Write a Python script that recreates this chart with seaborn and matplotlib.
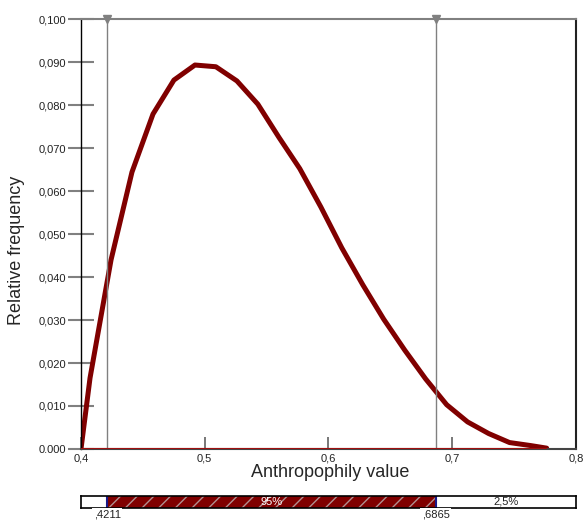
import seaborn as sns
import matplotlib.pyplot as plt

# curve
x_vals = [0.4000, 0.4073, 0.4243, 0.4412, 0.4582, 0.4751, 0.4921, 0.5090, 0.5260,
          0.5429, 0.5599, 0.5768, 0.5938, 0.6107, 0.6277, 0.6446, 0.6616, 0.6785,
          0.6955, 0.7124, 0.7294, 0.7463, 0.7633, 0.7763]
y_vals = [0.0000, 0.0165, 0.0440, 0.0644, 0.0779, 0.0858, 0.0893, 0.0889, 0.0856,
          0.0802, 0.0725, 0.0652, 0.0563, 0.0468, 0.0382, 0.0302, 0.0230, 0.0163,
          0.0103, 0.0063, 0.0036, 0.0015, 0.0008, 0.0002]

# credible interval
lower, upper = 0.4211, 0.6865
lower_label, upper_label = ",4211", ",6865"
mid_label, tail_label = "95%", "2,5%"

x_ticks = [0.4, 0.5, 0.6, 0.7, 0.8]
x_tick_labels = ["0,4", "0,5", "0,6", "0,7", "0,8"]
y_ticks = [0.0, 0.01, 0.02, 0.03, 0.04, 0.05, 0.06, 0.07, 0.08, 0.09, 0.10]
y_tick_labels = ["0.000", "0,010", "0,020", "0,030", "0,040", "0,050",
                 "0,060", "0,070", "0,080", "0,090", "0,100"]

sns.set_theme(style="white")
plt.rcParams['font.family'] = ['Liberation Sans', 'DejaVu Sans']

fig = plt.figure(figsize=(5.86, 5.21), dpi=100)
ax = fig.add_axes([0.1382, 0.1382, 0.8447, 0.8253])

sns.lineplot(x=x_vals, y=y_vals, color="#800000", linewidth=3.6, ax=ax)
ax.hlines(0, x_vals[0], x_vals[-1], color="#a01010", linewidth=1.5, zorder=3)

# interval markers
for v in [lower, upper]:
    ax.axvline(v, color="#808080", linewidth=1)
    ax.plot([v], [0.1], marker="v", color="#808080", markersize=6, clip_on=False)

ax.set_xlim(0.4, 0.8)
ax.set_ylim(0, 0.1)
ax.set_xticks(x_ticks)
ax.set_xticklabels(x_tick_labels, fontsize=8)
ax.set_yticks(y_ticks)
ax.set_yticklabels(y_tick_labels, fontsize=8)
ax.tick_params(axis="y", left=True, direction="inout", length=19, width=1.5,
               color="#808080", pad=1, labelcolor="#222222")
ax.tick_params(axis="x", bottom=True, direction="in", length=9, width=1.2,
               color="#606060", pad=3, labelcolor="#222222")
for side in ["left", "right", "bottom", "top"]:
    ax.spines[side].set_visible(True)
ax.spines["top"].set_color("#808080")
ax.spines["top"].set_linewidth(1.5)
ax.spines["left"].set_color("black")
ax.spines["left"].set_linewidth(1)
ax.spines["right"].set_color("#222222")
ax.spines["right"].set_linewidth(1.5)
ax.spines["bottom"].set_color("#444444")
ax.spines["bottom"].set_linewidth(1.5)

ax.set_xlabel("Anthropophily value", fontsize=13)
ax.set_ylabel("Relative frequency", fontsize=13)
ax.xaxis.set_label_coords(0.503, -0.035)
ax.yaxis.set_label_coords(-0.113, 0.463)

# interval bar under the chart
bx = fig.add_axes([0.1382, 0.025, 0.8447, 0.023])
bx.barh([0], [upper - lower], left=[lower], height=1, color="#800000",
        edgecolor="#b09090", hatch="//", linewidth=0)
for v in [lower, upper]:
    bx.axvline(v, color="#1a1a8a", linewidth=1.5)
bx.set_xlim(0.4, 0.8)
bx.set_ylim(-0.5, 0.5)
bx.set_xticks([])
bx.set_yticks([])
for side in ["left", "right", "bottom", "top"]:
    bx.spines[side].set_visible(True)
    bx.spines[side].set_color("black")
    bx.spines[side].set_linewidth(1.2)
bx.text((lower + upper) / 2, 0, mid_label, color="white", fontsize=8,
        ha="center", va="center")
bx.text((upper + 0.8) / 2, 0, tail_label, color="#222222", fontsize=8,
        ha="center", va="center")
for v, lab in [(lower, lower_label), (upper, upper_label)]:
    bx.text(v, -0.6, lab, fontsize=8, ha="center", va="top", color="#222222",
            bbox=dict(facecolor="white", edgecolor="none", pad=1), clip_on=False)

fig.savefig("out.png", dpi=100)
